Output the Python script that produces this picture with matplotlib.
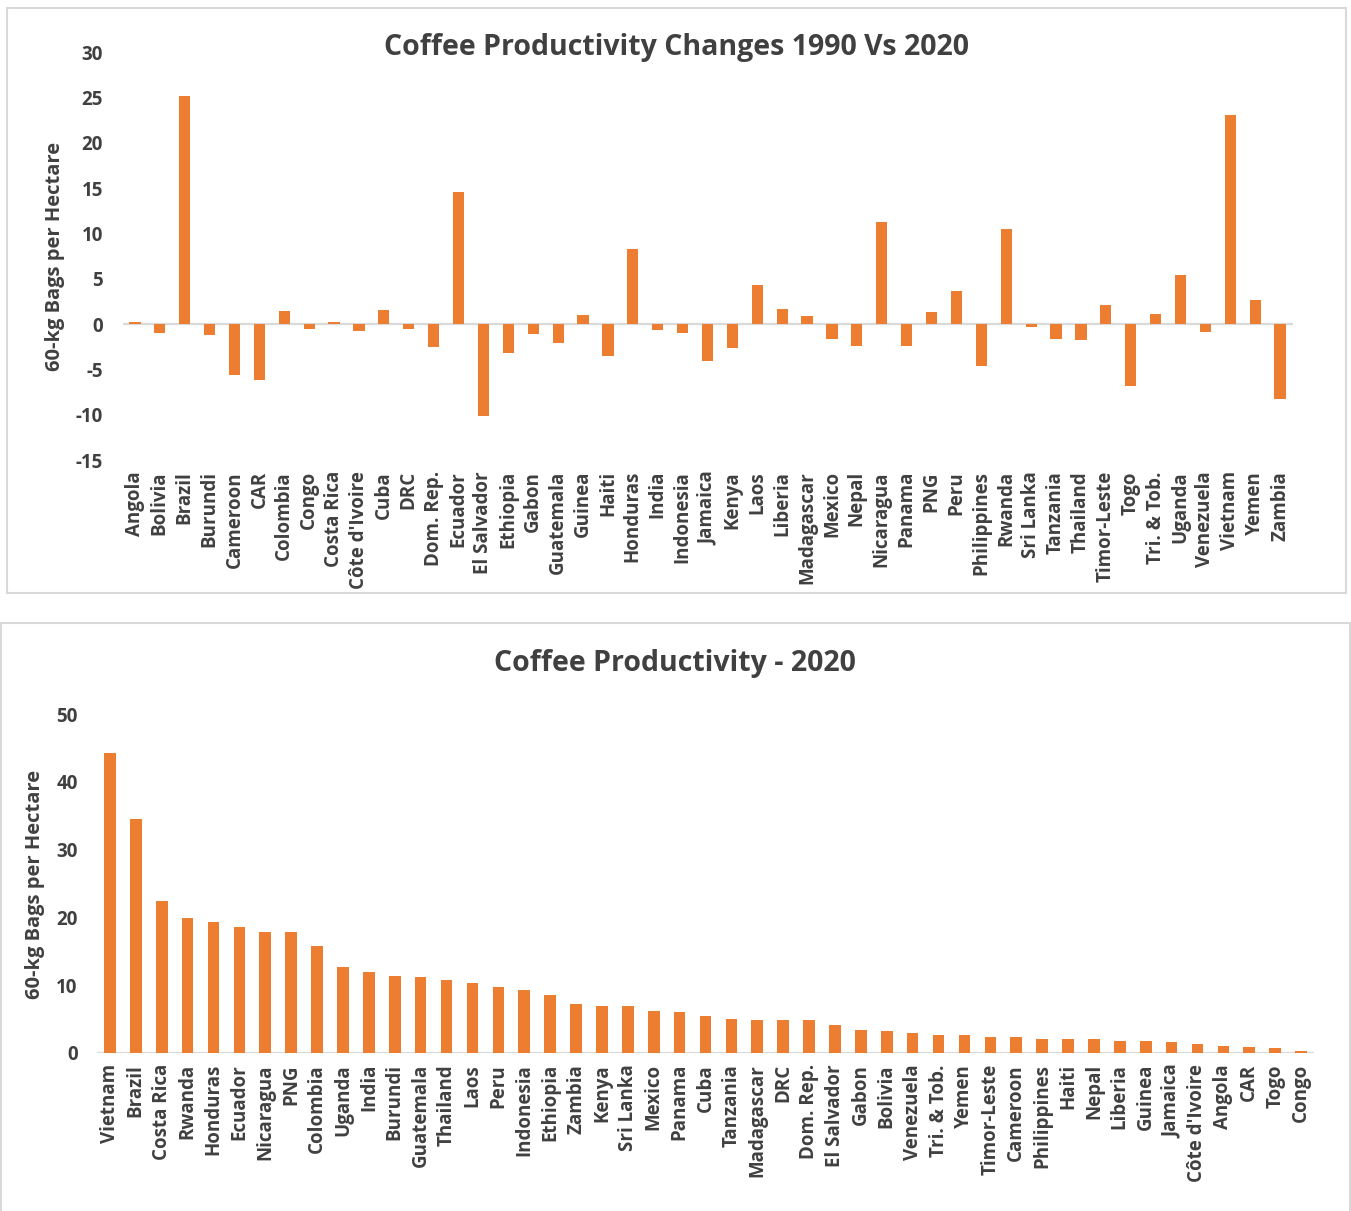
import matplotlib
matplotlib.use("Agg")
import matplotlib.pyplot as plt
from matplotlib.patches import Rectangle

# ---- data: change in productivity, 1990 vs 2020 (60-kg bags per hectare)
change_countries = [
    "Angola", "Bolivia", "Brazil", "Burundi", "Cameroon", "CAR", "Colombia",
    "Congo", "Costa Rica", "Côte d'Ivoire", "Cuba", "DRC", "Dom. Rep.",
    "Ecuador", "El Salvador", "Ethiopia", "Gabon", "Guatemala", "Guinea",
    "Haiti", "Honduras", "India", "Indonesia", "Jamaica", "Kenya", "Laos",
    "Liberia", "Madagascar", "Mexico", "Nepal", "Nicaragua", "Panama", "PNG",
    "Peru", "Philippines", "Rwanda", "Sri Lanka", "Tanzania", "Thailand",
    "Timor-Leste", "Togo", "Tri. & Tob.", "Uganda", "Venezuela", "Vietnam",
    "Yemen", "Zambia",
]
change_values = [
    0.2, -1.0, 25.1, -1.25, -5.6, -6.2, 1.4,
    -0.6, 0.2, -0.8, 1.5, -0.5, -2.5,
    14.6, -10.1, -3.2, -1.05, -2.1, 1.0,
    -3.55, 8.3, -0.65, -1.0, -4.1, -2.7, 4.3,
    1.6, 0.9, -1.7, -2.4, 11.3, -2.4, 1.3,
    3.6, -4.6, 10.5, -0.3, -1.7, -1.8,
    2.05, -6.8, 1.1, 5.4, -0.9, 23.0,
    2.7, -8.3,
]

# ---- data: productivity in 2020 (60-kg bags per hectare), ranked
prod_countries = [
    "Vietnam", "Brazil", "Costa Rica", "Rwanda", "Honduras", "Ecuador",
    "Nicaragua", "PNG", "Colombia", "Uganda", "India", "Burundi", "Guatemala",
    "Thailand", "Laos", "Peru", "Indonesia", "Ethiopia", "Zambia", "Kenya",
    "Sri Lanka", "Mexico", "Panama", "Cuba", "Tanzania", "Madagascar", "DRC",
    "Dom. Rep.", "El Salvador", "Gabon", "Bolivia", "Venezuela", "Tri. & Tob.",
    "Yemen", "Timor-Leste", "Cameroon", "Philippines", "Haiti", "Nepal",
    "Liberia", "Guinea", "Jamaica", "Côte d'Ivoire", "Angola", "CAR", "Togo",
    "Congo",
]
prod_values = [
    44.2, 34.5, 22.4, 19.9, 19.3, 18.6,
    17.9, 17.9, 15.8, 12.7, 12.0, 11.3, 11.2,
    10.7, 10.3, 9.8, 9.3, 8.5, 7.3, 7.0,
    6.9, 6.2, 6.1, 5.4, 5.0, 4.9, 4.9,
    4.9, 4.1, 3.4, 3.2, 3.0, 2.7,
    2.6, 2.4, 2.4, 2.1, 2.0, 2.0,
    1.8, 1.7, 1.6, 1.4, 1.1, 0.9, 0.8,
    0.25,
]

top_ticks = [-15, -10, -5, 0, 5, 10, 15, 20, 25, 30]
bottom_ticks = [0, 10, 20, 30, 40, 50]

ORANGE = "#ED7D31"
TEXT = "#404040"
GRID = "#D9D9D9"
FONT = "Open Sans"

W, H = 1351, 1211
fig = plt.figure(figsize=(W / 100, H / 100), dpi=100)
fig.patch.set_facecolor("white")


def px_axes(x0, y0, x1, y1):
    """Axes from pixel box (top-left origin)."""
    return fig.add_axes([x0 / W, 1 - y1 / H, (x1 - x0) / W, (y1 - y0) / H])


def panel(x0, y0, x1, y1):
    fig.add_artist(Rectangle((x0 / W, 1 - y1 / H), (x1 - x0) / W, (y1 - y0) / H,
                             transform=fig.transFigure, fill=False,
                             edgecolor=GRID, linewidth=1.5))


def style(ax, cats, vals, ticks, ylim):
    x = range(len(cats))
    ax.axhline(0, color=GRID, linewidth=1.6, zorder=1)
    ax.bar(x, vals, width=0.45, color=ORANGE, zorder=2)
    ax.set_xlim(-0.5, len(cats) - 0.5)
    ax.set_ylim(*ylim)
    ax.set_yticks(ticks)
    ax.set_yticklabels([str(t) for t in ticks], fontsize=13.5, fontweight="bold",
                       color=TEXT, family=FONT)
    ax.set_xticks(list(x))
    ax.set_xticklabels(cats, rotation=90, fontsize=13.5, fontweight="bold",
                       color=TEXT, family=FONT, va="top", ha="center")
    ax.tick_params(axis="both", length=0)
    ax.tick_params(axis="y", pad=14)
    ax.tick_params(axis="x", pad=8)
    for s in ax.spines.values():
        s.set_visible(False)
    ax.set_facecolor("none")


# ---- top panel
panel(7, 8, 1346, 593)
ax1 = px_axes(122.5, 52, 1292.5, 460)
style(ax1, change_countries, change_values, top_ticks, (-15, 30))
fig.text(676 / W, 1 - 48 / H, "Coffee Productivity Changes 1990 Vs 2020",
         ha="center", va="center", fontsize=20.5, fontweight="bold",
         color=TEXT, family=FONT)
fig.text(55 / W, 1 - 256 / H, "60-kg Bags per Hectare", rotation=90,
         ha="center", va="center", fontsize=14.5, fontweight="bold",
         color=TEXT, family=FONT)

# ---- bottom panel
panel(0.75, 623, 1350, 1230)
ax2 = px_axes(97, 714, 1314, 1053)
style(ax2, prod_countries, prod_values, bottom_ticks, (0, 50))
fig.text(675 / W, 1 - 663 / H, "Coffee Productivity - 2020",
         ha="center", va="center", fontsize=20.5, fontweight="bold",
         color=TEXT, family=FONT)
fig.text(35 / W, 1 - 884 / H, "60-kg Bags per Hectare", rotation=90,
         ha="center", va="center", fontsize=14.5, fontweight="bold",
         color=TEXT, family=FONT)

fig.savefig("out.png", dpi=100, facecolor="white")
